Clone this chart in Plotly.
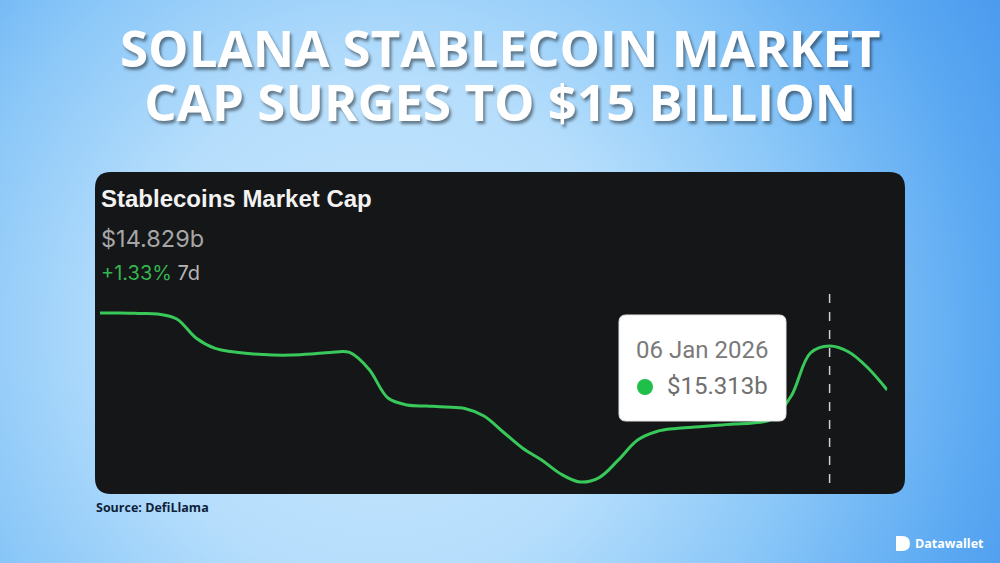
import base64
import plotly.graph_objects as go

# ---------------- data ----------------
dates = [
    "2025-10-22", "2025-10-24", "2025-10-26", "2025-10-28", "2025-10-30", "2025-11-01",
    "2025-11-03", "2025-11-05", "2025-11-07", "2025-11-09", "2025-11-11", "2025-11-13",
    "2025-11-15", "2025-11-17", "2025-11-19", "2025-11-21", "2025-11-23", "2025-11-25",
    "2025-11-27", "2025-11-29", "2025-12-01", "2025-12-03", "2025-12-05", "2025-12-07",
    "2025-12-09", "2025-12-11", "2025-12-13", "2025-12-15", "2025-12-17", "2025-12-19",
    "2025-12-21", "2025-12-23", "2025-12-25", "2025-12-27", "2025-12-29", "2025-12-31",
    "2026-01-02", "2026-01-04", "2026-01-06", "2026-01-08", "2026-01-10", "2026-01-12",
]
values = [
    15.676, 15.676, 15.671, 15.665, 15.610, 15.401,
    15.286, 15.247, 15.225, 15.214, 15.214, 15.225,
    15.242, 15.242, 15.060, 14.741, 14.664, 14.653,
    14.642, 14.626, 14.543, 14.367, 14.191, 14.059,
    13.905, 13.817, 13.866, 14.060, 14.279, 14.373,
    14.406, 14.422, 14.438, 14.455, 14.466, 14.510,
    14.763, 15.236, 15.313, 15.247, 15.071, 14.829,
]
title_lines = ["SOLANA STABLECOIN MARKET", "CAP SURGES TO $15 BILLION"]
panel_title = "Stablecoins Market Cap"
current_value = "$14.829b"
change_pct = "+1.33%"
change_period = "7d"
hover_date = "2026-01-06"
hover_date_label = "06 Jan 2026"
hover_value_label = "$15.313b"
source_text = "Source: DefiLlama"
brand_text = "Datawallet"

# ---------------- helpers (pixel -> paper) ----------------
W, H = 1000, 563


def px(x):
    return x / W


def py(y):
    return 1 - y / H


def rrect(x0, y0, x1, y1, r):
    pts = [
        ("M", [(x0 + r, y0)]),
        ("L", [(x1 - r, y0)]),
        ("Q", [(x1, y0), (x1, y0 + r)]),
        ("L", [(x1, y1 - r)]),
        ("Q", [(x1, y1), (x1 - r, y1)]),
        ("L", [(x0 + r, y1)]),
        ("Q", [(x0, y1), (x0, y1 - r)]),
        ("L", [(x0, y0 + r)]),
        ("Q", [(x0, y0), (x0 + r, y0)]),
    ]
    s = ""
    for cmd, ps in pts:
        s += cmd + " " + " ".join(f"{px(a):.5f},{py(b):.5f}" for a, b in ps) + " "
    return s + "Z"


# background gradient as inline svg
svg = f"""<svg xmlns='http://www.w3.org/2000/svg' width='{W}' height='{H}' viewBox='0 0 {W} {H}' preserveAspectRatio='none'>
<defs>
<radialGradient id='g' gradientUnits='userSpaceOnUse' cx='380' cy='330' r='720'>
<stop offset='0' stop-color='#c4e6fd'/>
<stop offset='0.35' stop-color='#b6defc'/>
<stop offset='0.6' stop-color='#8ac7f8'/>
<stop offset='0.85' stop-color='#5aa8f2'/>
<stop offset='1' stop-color='#4898ee'/>
</radialGradient>
</defs>
<rect width='{W}' height='{H}' fill='url(#g)'/>
</svg>"""
bg_src = "data:image/svg+xml;base64," + base64.b64encode(svg.encode()).decode()

# ---------------- figure ----------------
fig = go.Figure()
fig.add_trace(
    go.Scatter(
        x=dates,
        y=values,
        mode="lines",
        line=dict(color="#38c95a", width=3, shape="spline", smoothing=1.0),
        hoverinfo="skip",
        showlegend=False,
    )
)

shapes = [
    # dark panel
    dict(type="path", xref="paper", yref="paper", path=rrect(95, 172, 905, 494, 16),
         fillcolor="#151618", line=dict(width=0), layer="below"),
    # dashed crosshair
    dict(type="line", xref="x", yref="paper", x0=hover_date, x1=hover_date,
         y0=py(294), y1=py(486), line=dict(color="#d0d0d0", width=1.5, dash="dash"),
         layer="above"),
    # tooltip box
    dict(type="path", xref="paper", yref="paper", path=rrect(619, 315, 786, 421, 7),
         fillcolor="#ffffff", line=dict(color="#e6e6e6", width=1), layer="above"),
    # tooltip dot
    dict(type="circle", xref="paper", yref="paper", x0=px(637), x1=px(653),
         y0=py(395), y1=py(379), fillcolor="#1fbf4a", line=dict(width=0), layer="above"),
    # brand icon (D shape)
    dict(type="path", xref="paper", yref="paper",
         path=(f"M {px(896):.5f},{py(536):.5f} L {px(902):.5f},{py(536):.5f} "
               f"Q {px(910):.5f},{py(536):.5f} {px(910):.5f},{py(543.5):.5f} "
               f"Q {px(910):.5f},{py(551):.5f} {px(902):.5f},{py(551):.5f} "
               f"L {px(896):.5f},{py(551):.5f} Z"),
         fillcolor="#ffffff", line=dict(width=0), layer="above"),
]

# one text block: small base size sets the line pitch, spans set the glyph size
title_text = "<br>".join(
    f"<span style='font-size:51px'><b>{t}</b></span>" for t in title_lines
)
annotations = [dict(
    text=title_text, x=0.5, y=py(74), xref="paper", yref="paper",
    xanchor="center", yanchor="middle", showarrow=False,
    font=dict(family="Open Sans", size=41.5, color="#ffffff", weight=800,
              shadow="2px 3px 3px rgba(0,0,0,0.45)"),
)]

annotations += [
    dict(text=panel_title, x=px(99), y=py(198), xref="paper", yref="paper",
         xanchor="left", yanchor="middle", showarrow=False,
         font=dict(family="Liberation Sans", size=24, color="#f2f2f2", weight=700)),
    dict(text=current_value, x=px(99), y=py(238), xref="paper", yref="paper",
         xanchor="left", yanchor="middle", showarrow=False,
         font=dict(family="Inter", size=23.5, color="#a6a6a6")),
    dict(text=f"<span style='color:#34b54e'>{change_pct}</span> {change_period}",
         x=px(99), y=py(273), xref="paper", yref="paper",
         xanchor="left", yanchor="middle", showarrow=False,
         font=dict(family="Inter", size=20, color="#b5b5b5")),
    dict(text=hover_date_label, x=px(702), y=py(350), xref="paper", yref="paper",
         xanchor="center", yanchor="middle", showarrow=False,
         font=dict(family="Roboto", size=24, color="#7a7a7a")),
    dict(text=hover_value_label, x=px(665), y=py(386), xref="paper", yref="paper",
         xanchor="left", yanchor="middle", showarrow=False,
         font=dict(family="Roboto", size=24, color="#6f6f6f")),
    dict(text=f"<b>{source_text}</b>", x=px(94), y=py(507), xref="paper", yref="paper",
         xanchor="left", yanchor="middle", showarrow=False,
         font=dict(family="Open Sans", size=12.5, color="#0f1f3a", weight=700)),
    dict(text=f"<b>{brand_text}</b>", x=px(913), y=py(543.5), xref="paper", yref="paper",
         xanchor="left", yanchor="middle", showarrow=False,
         font=dict(family="Open Sans", size=12.5, color="#ffffff", weight=700)),
]

fig.update_layout(
    width=W, height=H,
    margin=dict(l=0, r=0, t=0, b=0),
    paper_bgcolor="#9fd2f9",
    plot_bgcolor="rgba(0,0,0,0)",
    images=[dict(source=bg_src, xref="paper", yref="paper", x=0, y=1, sizex=1, sizey=1,
                 sizing="stretch", xanchor="left", yanchor="top", layer="below")],
    xaxis=dict(domain=[px(100), px(887.2)], range=[dates[0], dates[-1]], visible=False,
               fixedrange=True),
    yaxis=dict(domain=[py(490), py(300)], range=[13.729, 15.819], visible=False,
               fixedrange=True),
    shapes=shapes,
    annotations=annotations,
    showlegend=False,
)

fig.write_html(
    "out.html",
    config={"displayModeBar": False},
    post_script="document.body.style.margin='0';document.body.style.overflow='hidden';",
)
